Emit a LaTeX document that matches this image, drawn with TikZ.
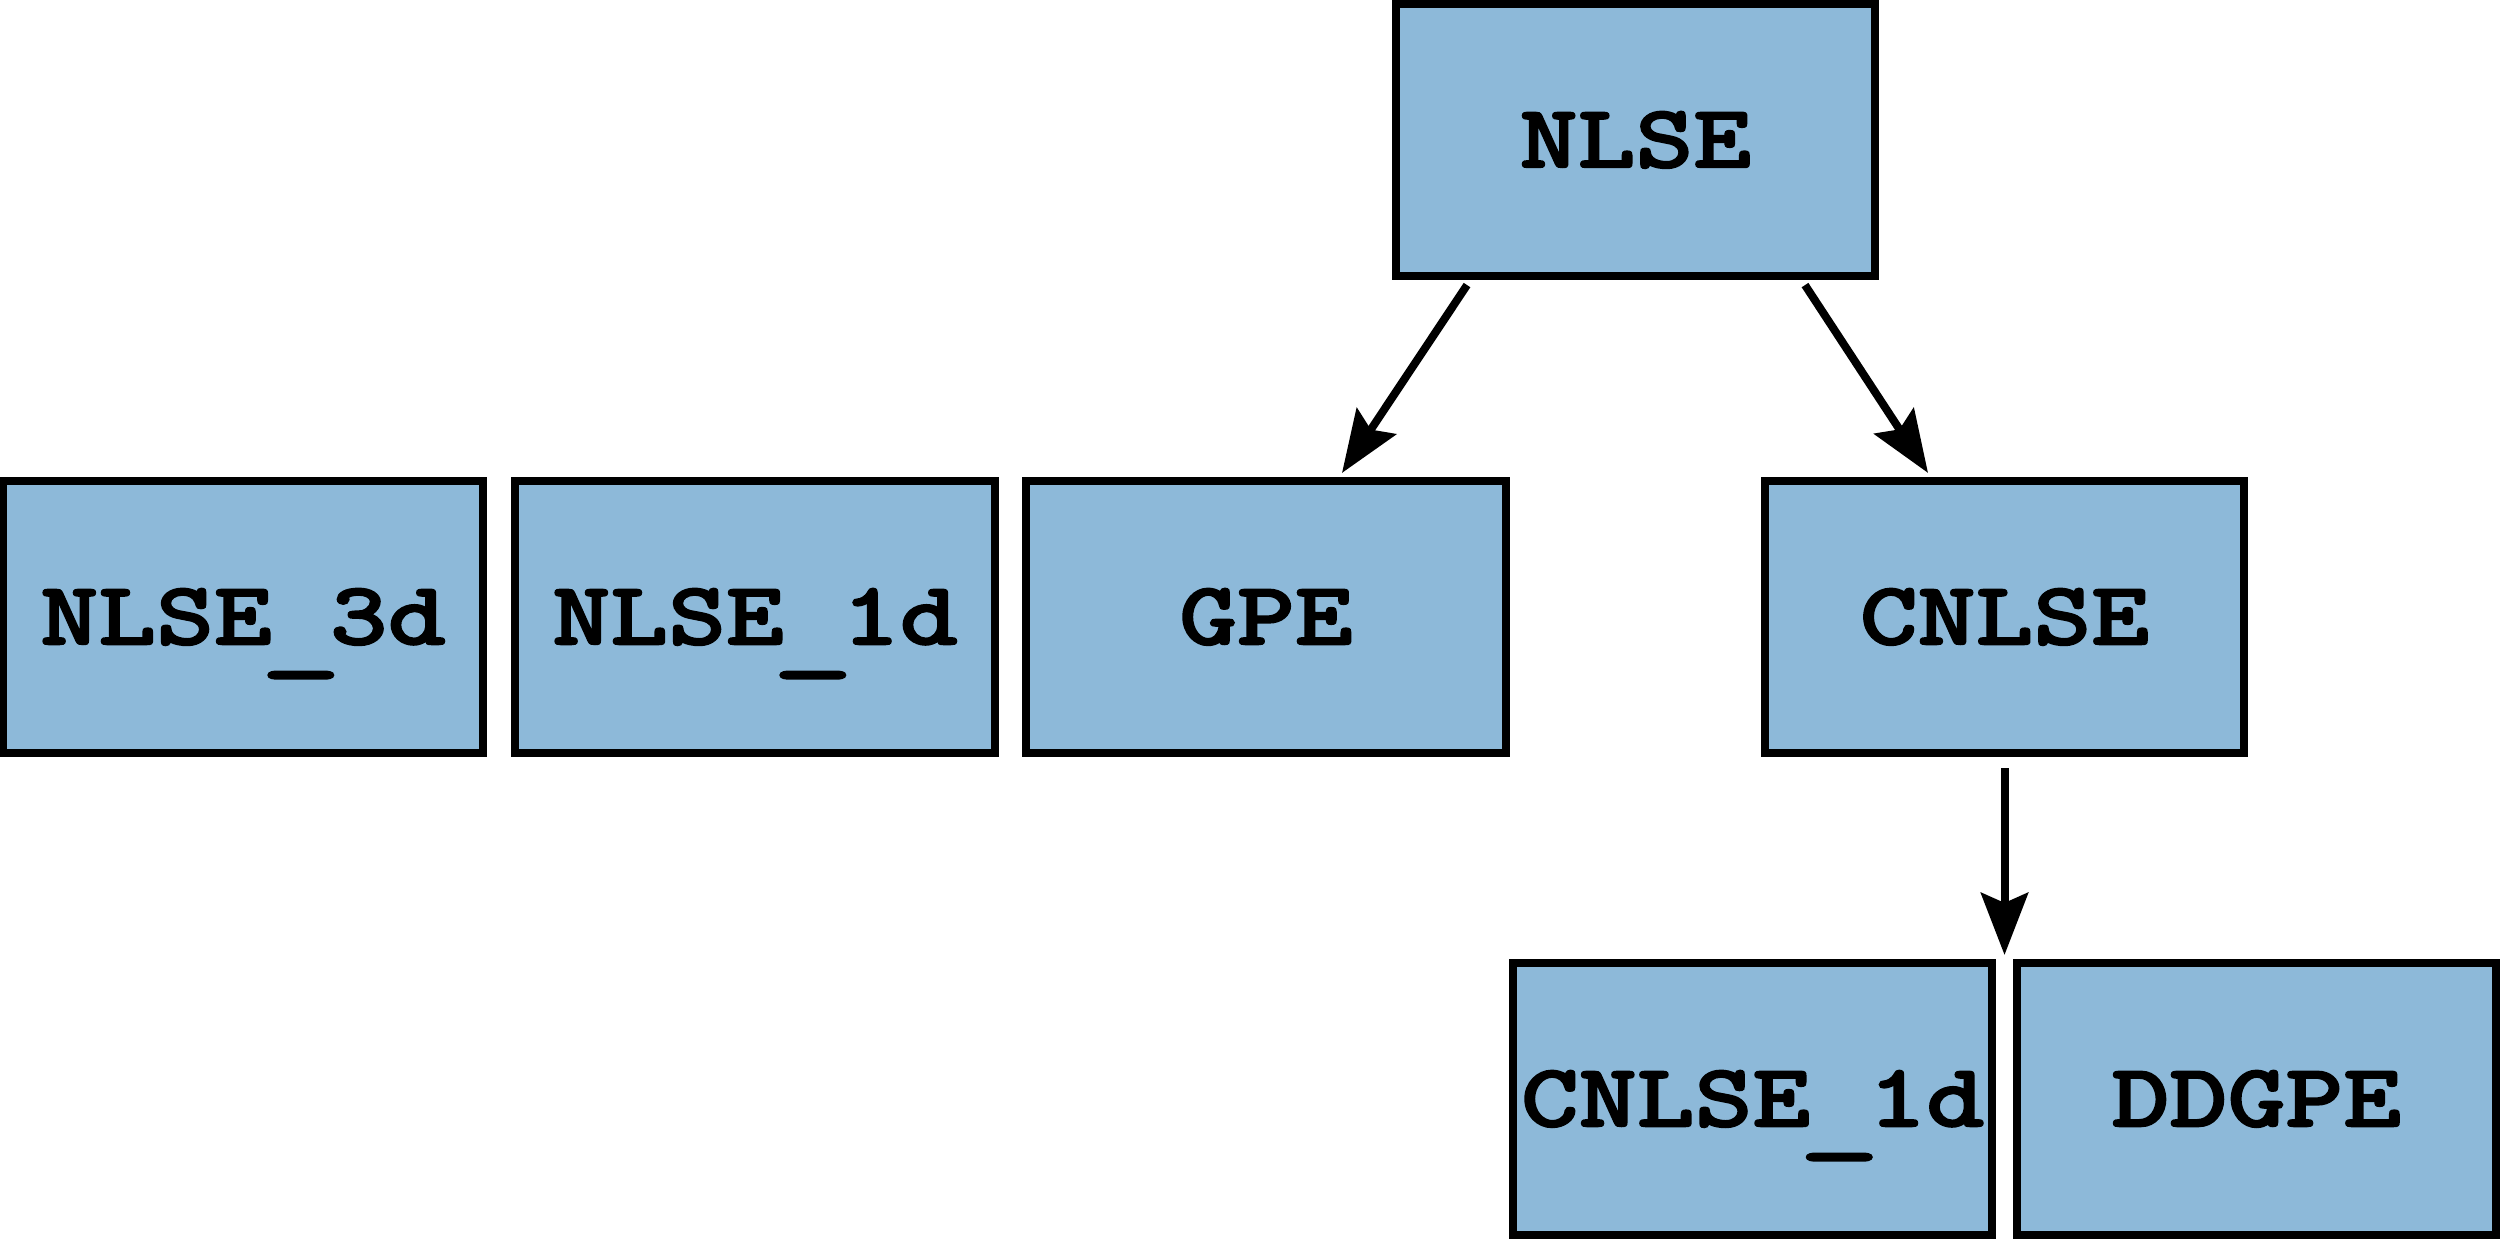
\documentclass[tikz,border=0pt]{standalone}
\usepackage{fontspec}
\usepackage{graphicx}
\newfontfamily\boxfont{lmmonolt10-bold}[Extension=.otf, FakeBold=1.6]
\usetikzlibrary{arrows.meta,calc}
\definecolor{boxfill}{RGB}{141,185,217}
\newcommand{\boxlabel}[1]{\scalebox{1.22}[1]{#1}}
\newcommand{\lowus}{\raisebox{-0.2cm}{\makebox[0.525em][c]{\scalebox{1.4}[1]{\_}}}}
\tikzset{
  classbox/.style={draw=black, fill=boxfill, line width=0.08cm,
    minimum width=4.79cm, minimum height=2.72cm, inner sep=0pt,
    text height=0.55cm, text depth=0pt,
    font=\boxfont\fontsize{25.7}{30}\selectfont},
  link/.style={draw=black, line width=0.08cm,
    -{Stealth[length=0.62cm, width=0.47cm, inset=0.1cm]}}
}
\begin{document}
\begin{tikzpicture}[x=0.01cm, y=-0.01cm]
\useasboundingbox (0,0) rectangle (2500,1239);
\node[classbox] (nlse)    at (1635.5,140) {\boxlabel{NLSE}};
\node[classbox] (nlse3d)  at (243,617)    {\boxlabel{NLSE\lowus 3d}};
\node[classbox] (nlse1d)  at (755,617)    {\boxlabel{NLSE\lowus 1d}};
\node[classbox] (gpe)     at (1266,617)   {\boxlabel{GPE}};
\node[classbox] (cnlse)   at (2004.5,617) {\boxlabel{CNLSE}};
\node[classbox] (cnlse1d) at (1752.5,1099) {\boxlabel{CNLSE\lowus 1d}};
\node[classbox] (ddgpe)   at (2256.5,1099) {\boxlabel{DDGPE}};
\coordinate (s1) at ($(nlse.south)+(-168.5,5)$);
\coordinate (e1) at ($(gpe.north)+(76,-4)$);
\coordinate (s2) at ($(nlse.south)+(169.5,5)$);
\coordinate (e2) at ($(cnlse.north)+(-76.5,-4)$);
\coordinate (s3) at ($(cnlse.south)+(0,11)$);
\coordinate (e3) at (s3 |- cnlse1d.north);
\draw[link] (s1) -- (e1);
\draw[link] (s2) -- (e2);
\draw[link] (s3) -- ($(e3)+(0,-4)$);
\end{tikzpicture}
\end{document}
